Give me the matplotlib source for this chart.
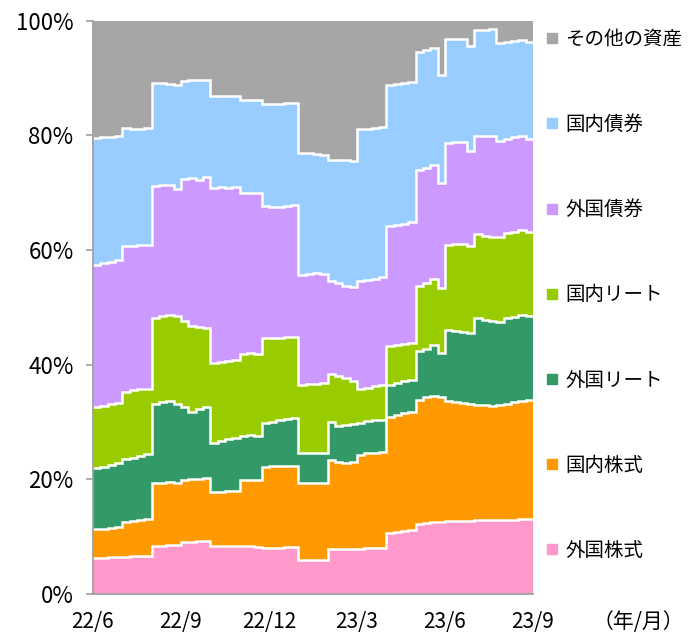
import numpy as np
import matplotlib
matplotlib.use("Agg")
import matplotlib.pyplot as plt
from matplotlib.lines import Line2D

plt.rcParams['font.family'] = ['Noto Sans CJK JP', 'DejaVu Sans']

# quarter-month periods from 22/6 to 23/9 (60 periods)
period_edges = np.arange(61) * 0.25
tick_pos = [0, 3, 6, 9, 12, 15]
tick_labels = ["22/6", "22/9", "22/12", "23/3", "23/6", "23/9"]

# cumulative top line (%) of each stacked layer
cum_foreign_equity = [6.2, 6.3, 6.4, 6.5, 6.5, 6.6, 6.6, 6.6, 8.3, 8.4,
                      8.5, 8.5, 9.0, 9.1, 9.2, 9.3, 8.3, 8.3, 8.3, 8.3,
                      8.3, 8.3, 8.2, 8.0, 8.0, 8.1, 8.2, 8.2, 5.9, 5.9,
                      6.0, 6.0, 7.8, 7.8, 7.9, 7.9, 7.9, 8.0, 8.0, 8.0,
                      10.6, 10.8, 11.0, 11.2, 12.2, 12.4, 12.5, 12.6, 12.7, 12.7,
                      12.8, 12.8, 12.9, 12.9, 12.9, 12.9, 12.9, 12.9, 13.0, 13.1]
cum_domestic_equity = [11.3, 11.4, 11.5, 11.7, 12.6, 12.7, 12.9, 13.0, 19.3, 19.3,
                       19.5, 19.4, 19.9, 20.0, 20.1, 20.2, 17.7, 17.8, 17.9, 18.0,
                       19.9, 19.8, 19.8, 22.2, 22.3, 22.3, 22.4, 22.4, 19.3, 19.3,
                       19.3, 19.3, 23.3, 23.0, 22.9, 23.0, 24.3, 24.5, 24.6, 24.8,
                       30.9, 31.2, 31.5, 31.8, 33.9, 34.3, 34.6, 34.4, 33.7, 33.5,
                       33.3, 33.1, 33.0, 32.9, 32.8, 33.0, 33.2, 33.4, 33.7, 33.9]
cum_foreign_reit = [22.0, 22.2, 22.5, 22.8, 23.5, 23.8, 24.1, 24.4, 33.2, 33.5,
                    33.6, 33.2, 32.6, 31.8, 32.2, 32.6, 26.4, 26.7, 27.0, 27.2,
                    27.6, 27.7, 27.5, 29.8, 30.0, 30.3, 30.5, 30.7, 24.6, 24.6,
                    24.6, 24.6, 30.0, 29.3, 29.4, 29.7, 29.9, 30.1, 30.3, 30.4,
                    36.5, 36.8, 37.1, 37.3, 42.3, 42.8, 43.4, 42.0, 46.1, 45.9,
                    45.7, 45.5, 48.1, 47.8, 47.6, 47.5, 48.1, 48.3, 48.6, 48.4]
cum_domestic_reit = [32.6, 32.8, 33.1, 33.3, 35.2, 35.5, 35.8, 35.8, 48.2, 48.5,
                     48.7, 48.4, 47.6, 46.8, 46.6, 46.4, 40.3, 40.5, 40.6, 40.8,
                     41.9, 42.0, 41.8, 44.6, 44.6, 44.7, 44.8, 44.8, 36.5, 36.6,
                     36.7, 36.8, 38.3, 38.0, 37.6, 37.2, 35.8, 36.0, 36.3, 36.5,
                     43.2, 43.4, 43.6, 43.8, 53.7, 54.2, 55.0, 53.4, 60.9, 61.0,
                     61.0, 60.6, 62.7, 62.5, 62.3, 62.2, 62.9, 63.2, 63.5, 63.1]
cum_foreign_bond = [57.4, 57.7, 57.9, 58.2, 60.6, 60.7, 60.8, 60.9, 71.2, 71.4,
                    71.3, 70.6, 72.3, 72.5, 72.2, 72.7, 70.8, 70.9, 70.8, 70.9,
                    69.9, 69.9, 69.9, 67.6, 67.4, 67.5, 67.7, 67.8, 55.7, 55.8,
                    55.9, 55.8, 54.5, 54.2, 53.7, 53.6, 54.5, 54.8, 55.0, 55.3,
                    64.1, 64.3, 64.5, 64.8, 74.0, 74.3, 74.8, 71.7, 78.7, 78.8,
                    78.9, 77.3, 79.8, 79.8, 79.8, 79.0, 79.3, 79.6, 79.9, 79.4]
cum_domestic_bond = [79.5, 79.6, 79.7, 79.8, 81.2, 81.0, 81.1, 81.2, 89.1, 89.1,
                     89.0, 88.8, 89.5, 89.7, 89.7, 89.7, 86.8, 86.9, 86.9, 86.9,
                     86.2, 86.2, 86.1, 85.5, 85.5, 85.5, 85.6, 85.7, 76.9, 76.9,
                     76.8, 76.5, 75.7, 75.6, 75.7, 75.5, 81.0, 81.1, 81.2, 81.5,
                     88.8, 88.9, 89.1, 89.3, 94.5, 94.8, 95.2, 90.5, 96.8, 96.8,
                     96.8, 95.5, 98.3, 98.4, 98.5, 96.1, 96.3, 96.5, 96.6, 96.3]
cum_total = [100.0] * 60

layer_names = ["外国株式", "国内株式", "外国リート", "国内リート", "外国債券", "国内債券", "その他の資産"]
layer_colors = ["#FF99CC", "#FF9900", "#339966", "#99CC00", "#CC99FF", "#99CCFF", "#A6A6A6"]

cums = [np.array(c) for c in [cum_foreign_equity, cum_domestic_equity, cum_foreign_reit,
                              cum_domestic_reit, cum_foreign_bond, cum_domestic_bond, cum_total]]

fig = plt.figure(figsize=(6.9, 6.35), dpi=100)
ax = fig.add_axes([93 / 690, 1 - 594 / 635, 440 / 690, (594 - 20.5) / 635])

base = np.zeros(60)
for top, col in zip(cums, layer_colors):
    ax.stairs(top, period_edges, baseline=base, fill=True, color=col, lw=0)
    base = top
for top in cums[:-1]:
    ax.stairs(top, period_edges, baseline=None, color="white", lw=1.8)

ax.set_xlim(0, 15)
ax.set_ylim(0, 100)
ax.set_xticks(tick_pos)
ax.set_xticklabels(tick_labels)
ax.set_yticks([0, 20, 40, 60, 80, 100])
ax.set_yticklabels(["0%", "20%", "40%", "60%", "80%", "100%"])
for s in ["top", "right"]:
    ax.spines[s].set_visible(False)
for s in ["left", "bottom"]:
    ax.spines[s].set_color("#A0A0A0")
    ax.spines[s].set_linewidth(1.3)
ax.tick_params(axis="y", direction="out", length=5, width=1.2, color="#A0A0A0",
               labelsize=16, pad=9)
ax.tick_params(axis="x", length=0, labelsize=15, pad=12)

fig.text(638 / 690, 1 - 622 / 635, "（年/月）", ha="center", va="center", fontsize=15)

handles = [Line2D([], [], marker="s", linestyle="none", markersize=6.5,
                  markerfacecolor=c, markeredgecolor=c) for c in layer_colors[::-1]]
leg = fig.legend(handles, layer_names[::-1], loc="upper left",
                 bbox_to_anchor=(545 / 690, 1 - 29 / 635), frameon=False,
                 fontsize=14, handlelength=0.7, handletextpad=0.35,
                 labelspacing=3.3, borderaxespad=0, borderpad=0)

fig.savefig("out.png", dpi=100)
